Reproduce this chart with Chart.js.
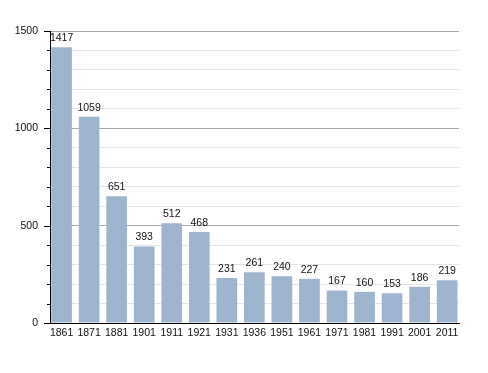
<!DOCTYPE html>
<html>
<head>
<meta charset="utf-8">
<script src="https://cdn.jsdelivr.net/npm/chart.js@4/dist/chart.umd.min.js"></script>
<style>
	html, body { margin: 0; padding: 0; background: #fff; }
	#wrap { width: 488px; height: 373px; }
</style>
</head>
<body>
<div id="wrap"><canvas id="chart"></canvas></div>
<script>
let years = ["1861", "1871", "1881", "1901", "1911", "1921", "1931", "1936", "1951", "1961", "1971", "1981", "1991", "2001", "2011"];
let population = [1417, 1059, 651, 393, 512, 468, 231, 261, 240, 227, 167, 160, 153, 186, 219];
let yMax = 1500;
let yStep = 100;
let yLabelStep = 500;

let fontFamily = "'Liberation Sans', Arial, sans-serif";

// value labels above bars + black tick marks on the y axis
let extrasPlugin = {
	id: "extras",
	afterDatasetsDraw(chart) {
		let ctx = chart.ctx;
		let meta = chart.getDatasetMeta(0);
		ctx.save();
		ctx.font = "10.5px " + fontFamily;
		ctx.fillStyle = "#111";
		ctx.textAlign = "center";
		ctx.textBaseline = "alphabetic";
		meta.data.forEach(function (bar, i) {
			ctx.fillText(String(population[i]), bar.x, bar.y - 6);
		});

		let yScale = chart.scales.y;
		let left = chart.chartArea.left;
		ctx.strokeStyle = "#000";
		ctx.lineWidth = 1;
		for (let v = 0; v <= yMax; v += yStep) {
			let py = Math.round(yScale.getPixelForValue(v)) + 0.5;
			let len = (v % yLabelStep == 0) ? 6 : 3;
			ctx.beginPath();
			ctx.moveTo(left - len, py);
			ctx.lineTo(left, py);
			ctx.stroke();
		}
		ctx.restore();
	}
};

new Chart(document.getElementById("chart"), {
	type: "bar",
	data: {
		datasets: [{
			data: population.map(function (v, i) { return { x: i, y: v }; }),
			backgroundColor: "#9cb4cd",
			borderWidth: 0,
			categoryPercentage: 1,
			barPercentage: 0.75
		}]
	},
	options: {
		responsive: true,
		maintainAspectRatio: false,
		animation: false,
		layout: { padding: { top: 31, right: 29, left: 0, bottom: 0 } },
		plugins: {
			legend: { display: false },
			tooltip: { enabled: false }
		},
		scales: {
			x: {
				type: "linear",
				offset: false,
				min: -0.42,
				max: 14.43,
				grid: { display: false, drawTicks: false, offset: false },
				border: { color: "#000", width: 1 },
				ticks: {
					stepSize: 1,
					includeBounds: false,
					color: "#111",
					font: { family: fontFamily, size: 10.5 },
					padding: 4,
					maxRotation: 0,
					autoSkip: false,
					callback: function (v) { return years[v] || ""; }
				},
				afterFit(scale) { scale.height = 50; }
			},
			y: {
				min: 0,
				max: yMax,
				grid: {
					drawTicks: false,
					color: function (c) {
						if (c.tick.value == 0) return "rgba(0,0,0,0)";
						return (c.tick.value % yLabelStep == 0) ? "#a8a8a8" : "#e4e4e4";
					}
				},
				border: { color: "#000", width: 1 },
				ticks: {
					stepSize: yStep,
					color: "#111",
					font: { family: fontFamily, size: 10.5 },
					padding: 12,
					callback: function (v) { return (v % yLabelStep == 0) ? String(v) : ""; }
				},
				afterFit(scale) { scale.width = 50; }
			}
		}
	},
	plugins: [extrasPlugin]
});
</script>
</body>
</html>
